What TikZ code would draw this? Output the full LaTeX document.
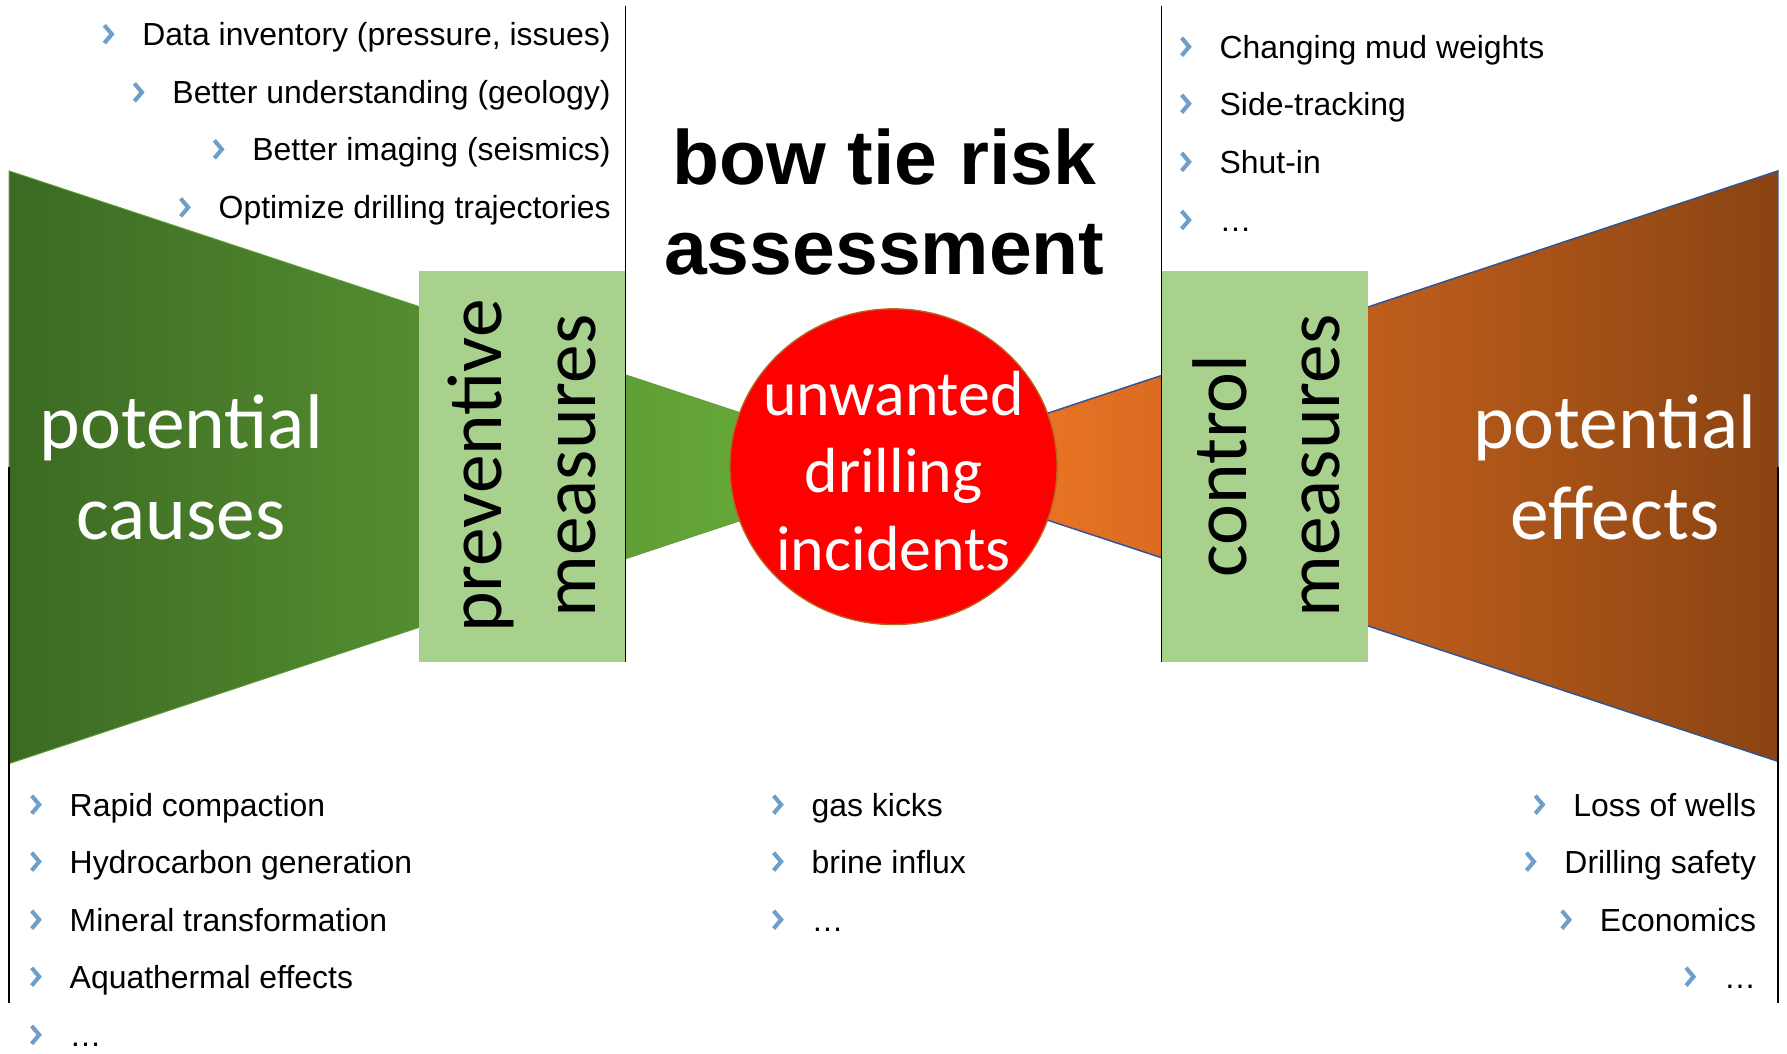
\documentclass[tikz,border=0pt]{standalone}
\usepackage{fontspec}
\setmainfont{Liberation Sans}
\newfontfamily\calib{Carlito}
\usetikzlibrary{shapes.geometric,calc}
\definecolor{boxgreen}{HTML}{A9D18E}
\definecolor{gdark}{HTML}{3B6A22}
\definecolor{gmid}{HTML}{52892F}
\definecolor{glight}{HTML}{66A83A}
\definecolor{gedge}{HTML}{5E9C36}
\definecolor{orlight}{HTML}{E97324}
\definecolor{ormid}{HTML}{C45E1B}
\definecolor{ordark}{HTML}{8A4412}
\definecolor{edgeblue}{HTML}{2F5597}
\definecolor{bulblue}{HTML}{6F9FC8}
\definecolor{circedge}{HTML}{B8651E}
\tikzset{
  item/.style={font=\fontsize{28}{34}\selectfont, inner sep=0pt},
  chev/.pic={\draw[bulblue, line width=3.6pt, line join=miter] (-3.2,-7.8) -- (3.4,0) -- (-3.2,7.8);},
  biglabel/.style={font=\calib\fontsize{68}{80}\selectfont, align=center, inner sep=0pt},
  rotlabel/.style={font=\calib\fontsize{68}{82}\selectfont, align=center, inner sep=0pt, rotate=90},
  incident/.style={font=\calib\fontsize{56}{68}\selectfont, align=center, inner sep=0pt, text=white},
  titletext/.style={font=\bfseries\fontsize{67.5}{79}\selectfont, align=center, inner sep=0pt},
  measurebox/.style={fill=boxgreen, draw=none},
  rule/.style={draw=black, line width=1.3pt}
}
\newcommand\bitem[4]{\node[item, anchor=#2] (#1) at (#3) {#4};
  \pic at ($(#1.base west)+(-30,-10)$) {chev};}
\begin{document}
\begin{tikzpicture}[x=1pt, y=-1pt]
\useasboundingbox (0,0) rectangle (1568,924);
% wedges
\path[left color=gdark, right color=glight, middle color=gmid, draw=gedge, line width=0.8pt]
  (8,150) -- (655,364) -- (655,455) -- (8,670) -- cycle;
\path[left color=orlight, middle color=ormid, right color=ordark, draw=edgeblue, line width=1.3pt]
  (1560,150) -- (915,364) -- (915,455) -- (1560,668) -- cycle;
% measure boxes
\node[measurebox, minimum width=181pt, minimum height=343pt, inner sep=0pt] (pbox) at (458.5,409.5) {};
\node[measurebox, minimum width=181pt, minimum height=343pt, inner sep=0pt] (cbox) at (1110,409.5) {};
% central incident
\node[ellipse, fill=red, draw=circedge, line width=1.2pt, minimum width=287pt, minimum height=277pt, inner sep=0pt] (inc) at (784,409.5) {};
% rules
\coordinate (l1a) at (549,5);  \coordinate (l1b) at (549,581);
\coordinate (l2a) at (1019,5); \coordinate (l2b) at (1019,581);
\coordinate (l3a) at (8,410);  \coordinate (l3b) at (8,880);
\coordinate (l4a) at (1560,410); \coordinate (l4b) at (1560,880);
\draw[rule] (l1a) -- (l1b);
\draw[rule] (l2a) -- (l2b);
\draw[rule] (l3a) -- (l3b);
\draw[rule] (l4a) -- (l4b);
% labels
\node[titletext] (title) at (776,177) {bow tie risk\\assessment};
\node[biglabel, text=white] (causes) at (159,410) {potential\\causes};
\node[biglabel, text=white] (effects) at (1417,410) {potential\\effects};
\node[rotlabel] (prev) at (458,409) {preventive\\measures};
\node[rotlabel] (ctrl) at (1111,409) {control\\measures};
\node[incident] (inctext) at (784,413) {unwanted\\drilling\\incidents};
% top left list
\bitem{tl1}{base east}{536,40}{Data inventory (pressure, issues)}
\bitem{tl2}{base east}{536,91}{Better understanding (geology)}
\bitem{tl3}{base east}{536,141}{Better imaging (seismics)}
\bitem{tl4}{base east}{536,192}{Optimize drilling trajectories}
% top right list
\bitem{tr1}{base west}{1070,51}{Changing mud weights}
\bitem{tr2}{base west}{1070,101}{Side-tracking}
\bitem{tr3}{base west}{1070,152}{Shut-in}
\bitem{tr4}{base west}{1070,203}{…}
% bottom left list
\bitem{bl1}{base west}{61,716}{Rapid compaction}
\bitem{bl2}{base west}{61,766}{Hydrocarbon generation}
\bitem{bl3}{base west}{61,817}{Mineral transformation}
\bitem{bl4}{base west}{61,867}{Aquathermal effects}
\bitem{bl5}{base west}{61,918}{…}
% bottom centre list
\bitem{bc1}{base west}{712,716}{gas kicks}
\bitem{bc2}{base west}{712,766}{brine influx}
\bitem{bc3}{base west}{712,817}{…}
% bottom right list
\bitem{br1}{base east}{1541,716}{Loss of wells}
\bitem{br2}{base east}{1541,766}{Drilling safety}
\bitem{br3}{base east}{1541,817}{Economics}
\bitem{br4}{base east}{1541,867}{…}
\end{tikzpicture}
\end{document}
